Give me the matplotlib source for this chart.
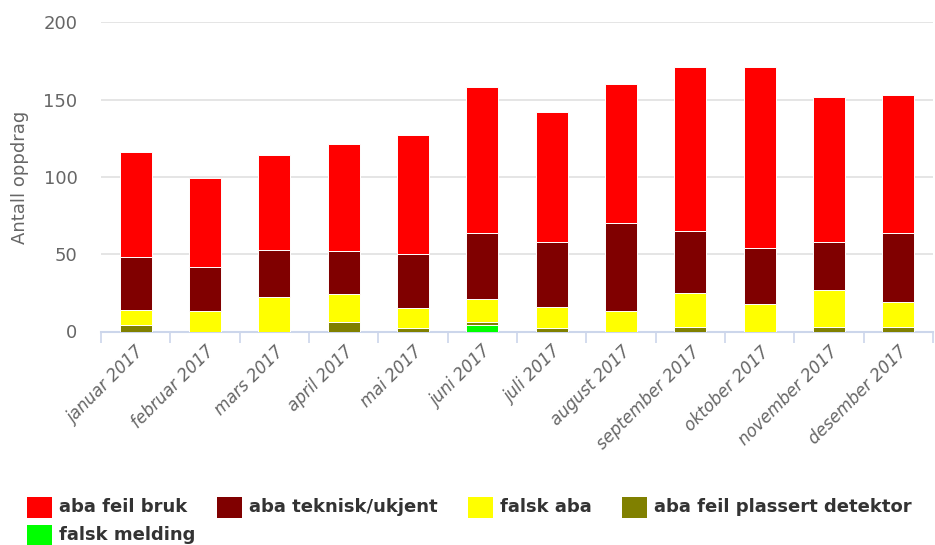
import matplotlib
matplotlib.use('Agg')
import matplotlib.pyplot as plt
import numpy as np
from matplotlib.patches import Rectangle

months = ['januar 2017', 'februar 2017', 'mars 2017', 'april 2017',
          'mai 2017', 'juni 2017', 'juli 2017', 'august 2017',
          'september 2017', 'oktober 2017', 'november 2017', 'desember 2017']

# stacked series, bottom to top
falsk_melding = [0, 0, 0, 0, 0, 4, 0, 0, 0, 0, 0, 0]
aba_feil_plassert = [4, 0, 0, 6, 2, 2, 2, 0, 3, 0, 3, 3]
falsk_aba = [10, 13, 22, 18, 13, 15, 14, 13, 22, 18, 24, 16]
aba_teknisk = [34, 29, 31, 28, 35, 43, 42, 57, 40, 36, 31, 45]
aba_feil_bruk = [68, 57, 61, 69, 77, 94, 84, 90, 106, 117, 94, 89]

series = [
    ('falsk melding', falsk_melding, '#00ff00'),
    ('aba feil plassert detektor', aba_feil_plassert, '#808000'),
    ('falsk aba', falsk_aba, '#ffff00'),
    ('aba teknisk/ukjent', aba_teknisk, '#800000'),
    ('aba feil bruk', aba_feil_bruk, '#ff0000'),
]
legend_order = ['aba feil bruk', 'aba teknisk/ukjent', 'falsk aba',
                'aba feil plassert detektor', 'falsk melding']

W, H = 935, 545
fig = plt.figure(figsize=(W / 100, H / 100), dpi=100)
ax = fig.add_axes([101 / W, 1 - 331.5 / H, 832 / W, (331.5 - 22.3) / H])

x = np.arange(len(months))
bottom = np.zeros(len(months))
for name, vals, color in series:
    vals = np.array(vals, dtype=float)
    ax.bar(x, vals, width=0.46, bottom=bottom, color=color,
           edgecolor='white', linewidth=0.7, zorder=3)
    bottom += vals

ax.set_xlim(-0.5, len(months) - 0.5)
ax.set_ylim(0, 200)
ax.set_yticks([0, 50, 100, 150, 200])
ax.yaxis.grid(True, color='#e0e0e0', linewidth=1.2, zorder=0)
ax.tick_params(axis='y', length=0, labelsize=13, labelcolor='#666666', pad=17)
ax.set_ylabel('Antall oppdrag', fontsize=13, color='#666666', labelpad=10)

ax.set_xticks(x)
ax.set_xticklabels(months, rotation=45, ha='right', va='top',
                   rotation_mode='anchor', fontsize=12, color='#666666',
                   style='italic')
ax.set_xticks(np.arange(-0.5, len(months)), minor=True)
ax.tick_params(axis='x', which='major', length=0, pad=8)
ax.tick_params(axis='x', which='minor', length=8, width=1.2, color='#ccd6eb')

for side in ['top', 'right', 'left']:
    ax.spines[side].set_visible(False)
ax.spines['bottom'].set_color('#ccd6eb')
ax.spines['bottom'].set_linewidth(1.5)

# legend laid out in a flowing row, wrapping like the web chart
colors = {name: color for name, _, color in series}
fig.canvas.draw()
renderer = fig.canvas.get_renderer()
bw, bh, gap = 25, 21, 7
xpos, ypos = 27, 507
for name in legend_order:
    t = fig.text(0, 0, name, fontsize=13, fontweight='bold', color='#333333',
                 va='center', ha='left')
    tw = t.get_window_extent(renderer).width
    if xpos + bw + gap + tw > W - 10:
        xpos, ypos = 27, ypos + 28
    fig.patches.append(Rectangle((xpos / W, 1 - (ypos + bh / 2) / H),
                                 bw / W, bh / H, transform=fig.transFigure,
                                 facecolor=colors[name], edgecolor='none'))
    t.set_position(((xpos + bw + gap) / W, 1 - ypos / H))
    xpos += bw + gap + tw + 30

fig.savefig('out.png', dpi=100)
